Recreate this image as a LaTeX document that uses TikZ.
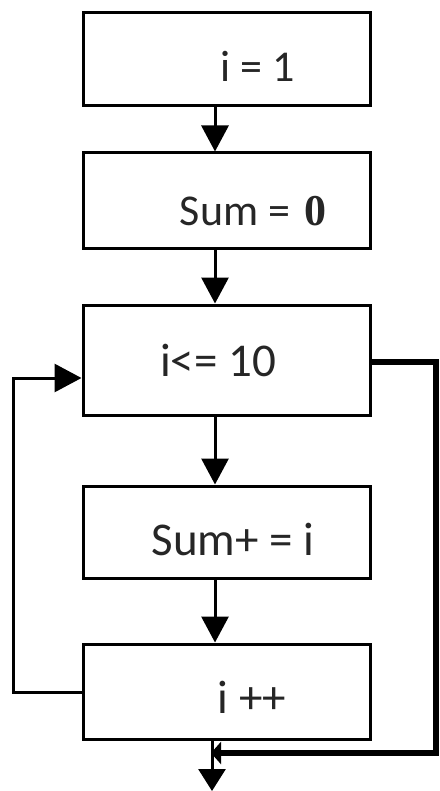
\documentclass[tikz,border=0pt]{standalone}
\usepackage{fontspec}
\setmainfont{Carlito}
\newfontfamily\zerofont{Liberation Serif}
\usetikzlibrary{arrows.meta}
\begin{document}
\begin{tikzpicture}[x=1pt,y=-1pt,
  box/.style={draw=black,line width=3pt,minimum width=287pt,inner sep=0pt},
  lbl/.style={inner sep=0pt,text=black!85,font=\fontsize{47}{56}\selectfont},
  flow/.style={line width=3pt,-{Triangle[length=26pt,width=27pt]}},
  thick flow/.style={line width=6pt},
]
\useasboundingbox (0,0) rectangle (439,791);
\node[box,minimum height=93pt] (b1) at (226.5,59.5) {};
\node[box,minimum height=96pt] (b2) at (226.5,201) {};
\node[box,minimum height=110pt] (b3) at (226.5,360) {};
\node[box,minimum height=92pt] (b4) at (226.5,532) {};
\node[box,minimum height=95pt] (b5) at (226.5,691.5) {};

\node[lbl,font=\fontsize{44}{52}\selectfont] (t1) at (258,66) {i = 1};
\node[lbl,font=\fontsize{44}{52}\selectfont] (t2) at (253,211) {Sum =\hspace{14pt}\textbf{\zerofont 0}};
\node[lbl] (t3) at (218,360) {i<= 10};
\node[lbl] (t4) at (233,539) {Sum+ = i};
\node[lbl] (t5) at (252,697) {i ++};

\draw[flow] (b1.south -| 215,0) -- (b2.north -| 215,0);
\draw[flow] (b2.south -| 215,0) -- (b3.north -| 215,0);
\draw[flow] (b3.south -| 215,0) -- (b4.north -| 215,0);
\draw[flow] (b4.south -| 215,0) -- (b5.north -| 215,0);

\coordinate (out) at (212,791);
\draw[line width=3pt,-{Triangle[length=22pt,width=27pt]}] (b5.south -| 212,0) -- (out);

\coordinate (l1) at (13,692);
\coordinate (l2) at (13,378);
\draw[line width=3pt,-{Triangle[length=27pt,width=28pt]}]
  (b5.west |- 0,692) -- (l1) -- (l2) -- (b3.west |- 0,378);

\coordinate (r1) at (436,362);
\coordinate (r2) at (436,753);
\coordinate (r3) at (211,753);
\draw[thick flow,line join=miter,-{Triangle[length=10pt,width=22pt]}]
  (b3.east |- 0,362) -- (r1) -- (r2) -- (r3);
\end{tikzpicture}
\end{document}
